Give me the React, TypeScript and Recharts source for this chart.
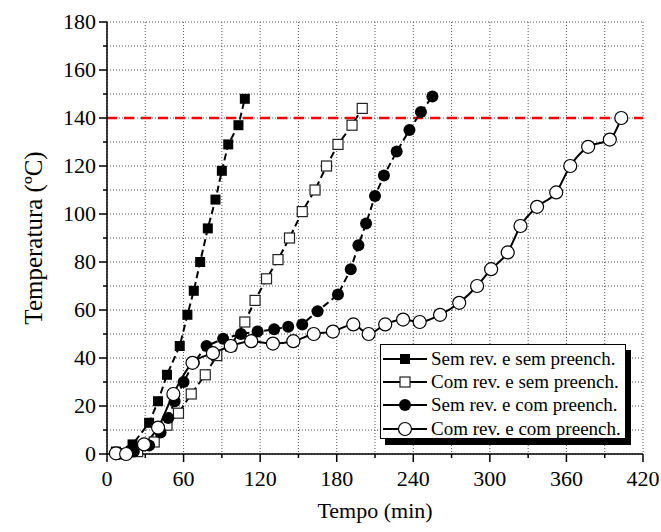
import { CartesianGrid, Line, LineChart, ReferenceLine, XAxis, YAxis } from "recharts";

// tempo (min) e temperatura (ºC)
const semRevSemPreTempo = [7, 20, 33, 40, 47, 57, 63, 68, 73, 79, 85, 90, 95, 103, 108];
const semRevSemPreTemp = [1, 4, 13, 22, 33, 45, 58, 68, 80, 94, 106, 118, 129, 137, 148];

const comRevSemPreTempo = [10, 24, 37, 47, 56, 66, 77, 86, 97, 108, 116, 125, 134, 143, 153, 163, 172, 181, 192, 200];
const comRevSemPreTemp = [0, 1, 5, 12, 17, 25, 33, 41, 45, 55, 64, 73, 81, 90, 101, 110, 120, 129, 137, 144];

const semRevComPreTempo = [8, 21, 33, 42, 48, 53, 60, 68, 78, 91, 105, 118, 131, 142, 153, 165, 181, 191, 197, 203, 210, 217, 227, 237, 246, 255];
const semRevComPreTemp = [0, 1, 3.5, 9, 15, 22, 30, 38, 45, 48, 50, 51, 52, 53, 54, 59.5, 66.5, 77, 87, 96, 107.5, 116, 126, 135, 142.5, 149];

const comRevComPreTempo = [7, 15, 29, 40, 52, 67, 83, 97, 113, 130, 146, 162, 177, 193, 205, 218, 232, 245, 261, 276, 290, 301, 314, 324, 337, 352, 363, 377, 394, 403];
const comRevComPreTemp = [0.3, 0, 4, 11, 25, 38, 42, 45, 47, 46, 47, 50, 51, 54, 50, 54, 56, 55, 58, 63, 70, 77, 84, 95, 103, 109, 120, 128, 131, 140];

const limite = 140;

const xTicks = [0, 30, 60, 90, 120, 150, 180, 210, 240, 270, 300, 330, 360, 390, 420];
const yTicks = [0, 10, 20, 30, 40, 50, 60, 70, 80, 90, 100, 110, 120, 130, 140, 150, 160, 170, 180];

const legendLabels = [
  "Sem rev. e sem preench.",
  "Com rev. e sem preench.",
  "Sem rev. e com preench.",
  "Com rev. e com preench.",
];

const toRows = (tempo: number[], temp: number[]) => tempo.map((t, i) => ({ t, T: temp[i] }));

const font = "Liberation Serif, Times New Roman, serif";

type Marker = "fsquare" | "osquare" | "fcircle" | "ocircle";

function drawMarker(kind: Marker, cx: number, cy: number, key?: number) {
  if (kind === "fsquare") return <rect key={key} x={cx - 5} y={cy - 5} width={10} height={10} fill="#000" />;
  if (kind === "osquare")
    return <rect key={key} x={cx - 5} y={cy - 5} width={10} height={10} fill="#fff" stroke="#222" strokeWidth={1.2} />;
  if (kind === "fcircle") return <circle key={key} cx={cx} cy={cy} r={6} fill="#000" />;
  return <circle key={key} cx={cx} cy={cy} r={6.5} fill="#fff" stroke="#000" strokeWidth={1.2} />;
}

const dotFor = (kind: Marker) => (props: any) => {
  const { cx, cy, index } = props;
  if (cx == null || cy == null) return <g key={index} />;
  return drawMarker(kind, cx, cy, index);
};

const BottomTick = ({ x, y, payload }: any) => {
  const major = payload.value % 60 === 0;
  return (
    <g>
      <line x1={x} x2={x} y1={y} y2={y + (major ? 8 : 4)} stroke="#000" strokeWidth={1.5} />
      {major && (
        <text x={x} y={y + 32} textAnchor="middle" fontSize={22} style={{ fontFamily: font }} fill="#000">
          {payload.value}
        </text>
      )}
    </g>
  );
};

const TopTick = ({ x, y, payload }: any) => {
  const major = payload.value % 60 === 0;
  return <line x1={x} x2={x} y1={y} y2={y + (major ? 8 : 4)} stroke="#000" strokeWidth={1.5} />;
};

const LeftTick = ({ x, y, payload }: any) => {
  const major = payload.value % 20 === 0;
  return (
    <g>
      <line x1={x - (major ? 8 : 4)} x2={x} y1={y} y2={y} stroke="#000" strokeWidth={1.5} />
      {major && (
        <text x={x - 11} y={y + 7} textAnchor="end" fontSize={22} style={{ fontFamily: font }} fill="#000">
          {payload.value}
        </text>
      )}
    </g>
  );
};

const RightTick = ({ x, y, payload }: any) => {
  const major = payload.value % 20 === 0;
  return <line x1={x - (major ? 8 : 4)} x2={x} y1={y} y2={y} stroke="#000" strokeWidth={1.5} />;
};

const series: { tempo: number[]; temp: number[]; marker: Marker; dashed: boolean; smooth: boolean }[] = [
  { tempo: semRevSemPreTempo, temp: semRevSemPreTemp, marker: "fsquare", dashed: true, smooth: false },
  { tempo: comRevSemPreTempo, temp: comRevSemPreTemp, marker: "osquare", dashed: true, smooth: false },
  { tempo: semRevComPreTempo, temp: semRevComPreTemp, marker: "fcircle", dashed: true, smooth: false },
  { tempo: comRevComPreTempo, temp: comRevComPreTemp, marker: "ocircle", dashed: false, smooth: true },
];

export default function App() {
  return (
    <div style={{ position: "absolute", left: 0, top: 0, width: 661, height: 532, background: "#fff", fontFamily: font }}>
      <LineChart width={661} height={532} margin={{ top: 22, right: 18, bottom: 0, left: 0 }} style={{ fontFamily: font }}>
        <CartesianGrid stroke="#555" strokeDasharray="1 2" strokeWidth={1} />
        <XAxis
          type="number"
          dataKey="t"
          domain={[0, 420]}
          ticks={xTicks}
          interval={0}
          height={78}
          tickSize={0}
          tickMargin={0}
          tick={BottomTick}
          axisLine={{ stroke: "#000", strokeWidth: 1.5 }}
          label={{ value: "Tempo (min)", position: "center", dy: 17, fontSize: 22, fill: "#000", style: { fontFamily: font } }}
        />
        <XAxis
          xAxisId="top"
          orientation="top"
          type="number"
          dataKey="t"
          domain={[0, 420]}
          ticks={xTicks}
          interval={0}
          height={0}
          tickSize={0}
          tickMargin={0}
          tick={TopTick}
          axisLine={{ stroke: "#000", strokeWidth: 1.5 }}
        />
        <YAxis
          type="number"
          domain={[0, 180]}
          ticks={yTicks}
          interval={0}
          width={107}
          tickSize={0}
          tickMargin={0}
          tick={LeftTick}
          axisLine={{ stroke: "#000", strokeWidth: 1.5 }}
          label={{
            value: "Temperatura (ºC)",
            angle: -90,
            position: "center",
            dx: -20,
            fontSize: 25,
            fill: "#000",
            style: { fontFamily: font },
          }}
        />
        <YAxis
          yAxisId="right"
          orientation="right"
          type="number"
          domain={[0, 180]}
          ticks={yTicks}
          interval={0}
          width={0}
          tickSize={0}
          tickMargin={0}
          tick={RightTick}
          axisLine={{ stroke: "#000", strokeWidth: 1.5 }}
        />
        <ReferenceLine y={limite} stroke="#ff0000" strokeWidth={2.5} strokeDasharray="10 7" />
        {series.map((s, i) => (
          <Line
            key={i}
            data={toRows(s.tempo, s.temp)}
            dataKey="T"
            type={s.smooth ? "monotone" : "linear"}
            stroke="#000"
            strokeWidth={2}
            strokeDasharray={s.dashed ? "7 4" : undefined}
            dot={dotFor(s.marker)}
            activeDot={false}
            isAnimationActive={false}
          />
        ))}
      </LineChart>
      <div
        style={{
          position: "absolute",
          left: 380,
          top: 344,
          width: 246,
          height: 95,
          border: "1.5px solid #000",
          background: "#fff",
          boxShadow: "5px 6px 0 #000",
          paddingTop: 2,
          boxSizing: "border-box",
          fontSize: 19,
        }}
      >
        {legendLabels.map((lab, i) => (
          <div key={lab} style={{ display: "flex", alignItems: "center", height: 23.3, whiteSpace: "nowrap" }}>
            <svg width={44} height={20} style={{ marginLeft: 2, marginRight: 4 }}>
              <line x1={0} x2={44} y1={10} y2={10} stroke="#000" strokeWidth={2} />
              {drawMarker(series[i].marker, 22, 10)}
            </svg>
            <span>{lab}</span>
          </div>
        ))}
      </div>
    </div>
  );
}
